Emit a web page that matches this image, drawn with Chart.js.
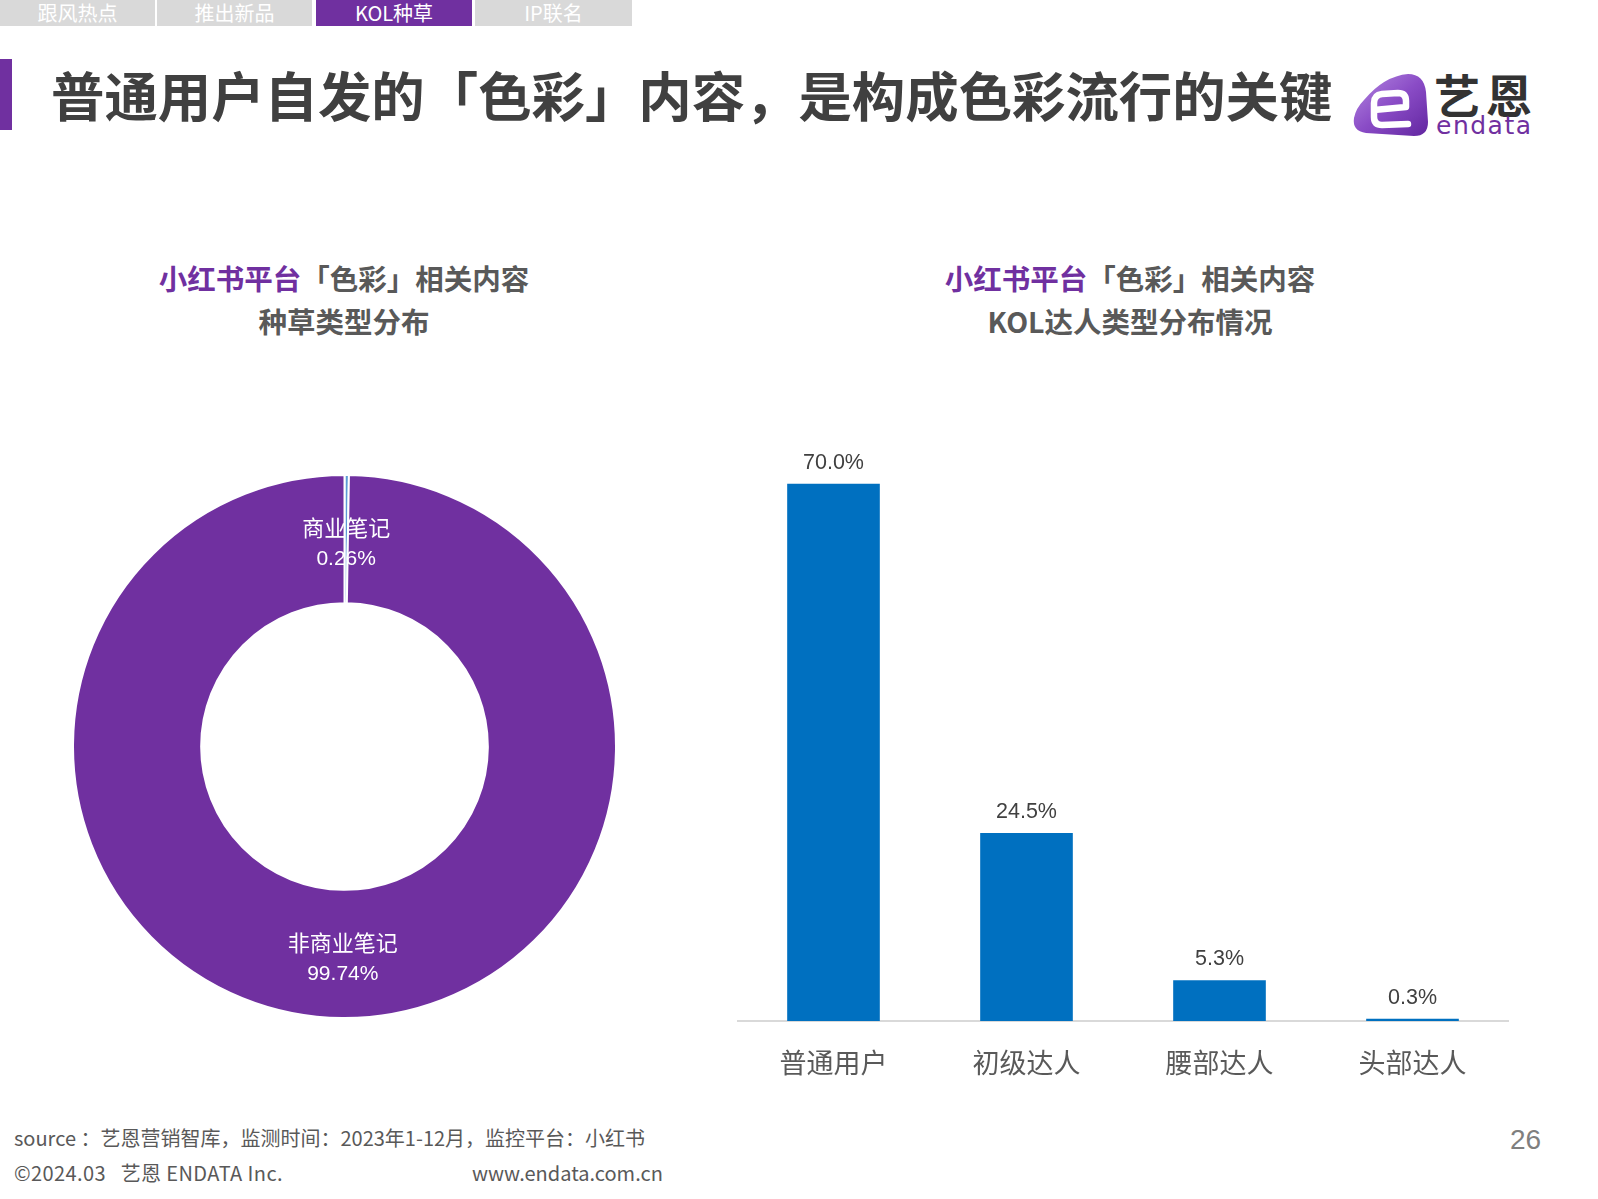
<!DOCTYPE html>
<html><head><meta charset="utf-8">
<script src="https://cdn.jsdelivr.net/npm/chart.js@4/dist/chart.umd.min.js"></script>
<style>
html,body{margin:0;padding:0;background:#fff;}
body{width:1598px;height:1199px;position:relative;overflow:hidden;font-family:"Noto Sans CJK SC","Liberation Sans",sans-serif;}
.abs{position:absolute;white-space:nowrap;}
.tab{position:absolute;top:0;height:26px;line-height:26px;text-align:center;color:#fff;font-size:20px;background:#d9d9d9;}
.tab.on{background:#7030a0;}
.ct{position:absolute;width:600px;text-align:center;font-weight:bold;font-size:28.5px;line-height:30px;color:#595959;}
.ct .p{color:#7030a0;}
.foot{position:absolute;font-size:20px;line-height:24px;color:#595959;white-space:nowrap;}
</style></head>
<body>
<div class="tab" style="left:0;width:155px;">跟风热点</div>
<div class="tab" style="left:157px;width:155px;">推出新品</div>
<div class="tab on" style="left:316px;width:156px;">KOL种草</div>
<div class="tab" style="left:475px;width:157px;">IP联名</div>

<div class="abs" style="left:0;top:59px;width:12px;height:71px;background:#7030a0;"></div>
<div class="abs" style="left:51px;top:65px;font-size:53.4px;line-height:58px;font-weight:bold;color:#404040;">普通用户自发的「色彩」内容，是构成色彩流行的关键</div>

<svg class="abs" style="left:1350px;top:70px;" width="84" height="70" viewBox="0 0 84 70">
<defs><linearGradient id="lg" x1="0" y1="0" x2="1" y2="1"><stop offset="0" stop-color="#b68ae2"/><stop offset="0.5" stop-color="#8a4cc6"/><stop offset="1" stop-color="#6226a0"/></linearGradient></defs>
<path d="M 14 30 Q 34 6 58 4 Q 74 4 76 22 L 78 52 Q 78 66 64 66 L 16 63 Q 2 61 4 48 Q 6 38 14 30 Z" fill="url(#lg)"/>
<path d="M 24 40 L 56 37 L 56 31 Q 56 23 48 23 L 32 24 Q 24 25 24 33 L 24 47 Q 24 55 32 55 L 58 54" fill="none" stroke="#fff" stroke-width="6.5" stroke-linecap="round" stroke-linejoin="round"/>
</svg>
<div class="abs" style="left:1434px;top:68px;font-size:46px;line-height:50px;font-weight:bold;color:#333;letter-spacing:6px;">艺恩</div>
<div class="abs" style="left:1436px;top:113px;font-size:25px;line-height:26px;color:#7030a0;font-family:'DejaVu Sans',sans-serif;letter-spacing:1.5px;">endata</div>

<div class="ct" style="left:44px;top:263px;"><span class="p">小红书平台</span>「色彩」相关内容</div>
<div class="ct" style="left:44px;top:306px;">种草类型分布</div>
<div class="ct" style="left:830px;top:263px;"><span class="p">小红书平台</span>「色彩」相关内容</div>
<div class="ct" style="left:830px;top:306px;">KOL达人类型分布情况</div>

<div class="abs" style="left:72px;top:474px;width:545px;height:545px;"><canvas id="pie" width="545" height="545"></canvas></div>
<div class="abs" style="left:737px;top:380px;width:772px;height:720px;"><canvas id="bar" width="772" height="720"></canvas></div>

<div class="foot" style="left:14px;top:1126px;">source ：艺恩营销智库，监测时间：2023年1-12月，监控平台：小红书</div>
<div class="foot" style="left:14px;top:1161px;letter-spacing:0.4px;">©2024.03&nbsp;&nbsp;&nbsp;艺恩 ENDATA Inc.</div>
<div class="foot" style="left:472px;top:1161px;">www.endata.com.cn</div>
<div class="abs" style="left:1510px;top:1124px;font-size:28px;line-height:32px;color:#7f7f7f;font-family:'Liberation Sans',sans-serif;">26</div>

<script>
// Donut data
const pieLabels = ["商业笔记", "非商业笔记"];
const pieValues = [0.26, 99.74];
const pieColors = ["#5b9bd5", "#7030a0"];

// Bar data
const barCategories = ["普通用户", "初级达人", "腰部达人", "头部达人"];
const barValues = [70.0, 24.5, 5.3, 0.3];

const numFont = "'Liberation Sans','Noto Sans CJK SC',sans-serif";

const pieLabelPlugin = {
  id: 'pieLabels',
  afterDatasetsDraw(chart) {
    const ctx = chart.ctx;
    const meta = chart.getDatasetMeta(0);
    ctx.save();
    ctx.fillStyle = '#ffffff';
    ctx.textAlign = 'center';
    ctx.textBaseline = 'middle';
    meta.data.forEach((arc, i) => {
      const p = arc.getCenterPoint();
      ctx.font = "22px 'Noto Sans CJK SC',sans-serif";
      ctx.fillText(pieLabels[i], p.x, p.y - 11);
      ctx.font = "21px " + numFont;
      ctx.fillText(pieValues[i].toFixed(2) + '%', p.x, p.y + 20);
    });
    ctx.restore();
  }
};

new Chart(document.getElementById('pie'), {
  type: 'doughnut',
  data: { labels: pieLabels, datasets: [{ data: pieValues, backgroundColor: pieColors, borderColor: '#ffffff', borderWidth: 2 }] },
  options: {
    responsive: false, animation: false, cutout: '52.8%',
    plugins: { legend: { display: false }, tooltip: { enabled: false } },
    layout: { padding: 0 }
  },
  plugins: [pieLabelPlugin]
});

const barLabelPlugin = {
  id: 'barLabels',
  afterDatasetsDraw(chart) {
    const ctx = chart.ctx;
    const meta = chart.getDatasetMeta(0);
    ctx.save();
    ctx.fillStyle = '#404040';
    ctx.textAlign = 'center';
    ctx.textBaseline = 'middle';
    ctx.font = "21.5px " + numFont;
    meta.data.forEach((bar, i) => {
      ctx.fillText(barValues[i].toFixed(1) + '%', bar.x, bar.y - 21);
    });
    ctx.restore();
  }
};

new Chart(document.getElementById('bar'), {
  type: 'bar',
  data: { labels: barCategories, datasets: [{ data: barValues, backgroundColor: '#0070c0', barPercentage: 0.8, categoryPercentage: 0.6 }] },
  options: {
    responsive: false, animation: false,
    layout: { padding: { top: 27, left: 0, right: 0, bottom: 0 } },
    plugins: { legend: { display: false }, tooltip: { enabled: false } },
    scales: {
      y: { display: false, min: 0, max: 80 },
      x: {
        grid: { display: false, drawTicks: false },
        border: { display: true, color: '#d9d9d9', width: 2 },
        ticks: { color: '#595959', font: { size: 27, family: "'Noto Sans CJK SC',sans-serif" }, padding: 26, maxRotation: 0 },
        afterFit(scale) { scale.height = 79; }
      }
    }
  },
  plugins: [barLabelPlugin]
});
</script>
</body></html>
